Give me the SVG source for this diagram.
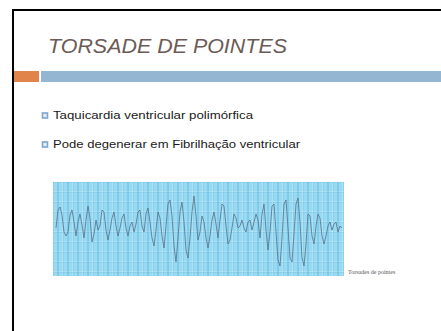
<svg xmlns="http://www.w3.org/2000/svg" width="441" height="331" viewBox="0 0 441 331">
<style>
.title{font-family:"Liberation Sans",Arial,sans-serif;font-style:italic;font-size:21px;fill:#6b5b56}
.body{font-family:"Liberation Sans",Arial,sans-serif;font-size:11px;fill:#1a1a1a}
.bullet{fill:#e4ecf4;stroke:#7fa6cf;stroke-width:1.6}
.cap{font-family:"Liberation Serif","Times New Roman",serif;font-size:6px;fill:#555}
</style>
<defs>
<pattern id="grid" x="53" y="182" width="10" height="10" patternUnits="userSpaceOnUse">
<rect width="10" height="10" fill="#c2ebf8"/>
<path d="M2 0V10M4 0V10M6 0V10M8 0V10M0 2H10M0 4H10M0 6H10M0 8H10" stroke="#72c9ec" stroke-width="0.6"/>
<path d="M0 0V10M0 0H10M5 0V10" stroke="#4aa6d6" stroke-width="0.6"/>
</pattern>
</defs>
<rect width="441" height="331" fill="#ffffff"/>
<path d="M13 331V10H441" fill="none" stroke="#000" stroke-width="2"/>
<text class="title" x="48" y="53" textLength="239" lengthAdjust="spacingAndGlyphs">TORSADE DE POINTES</text>
<rect x="14" y="71" width="25" height="11" fill="#e0844a"/>
<rect x="41" y="71" width="400" height="11" fill="#94b6d3"/>
<g id="bullets">
<rect class="bullet" x="42.5" y="113" width="5" height="5"/>
<text class="body" x="53" y="119" textLength="200" lengthAdjust="spacingAndGlyphs">Taquicardia ventricular polimórfica</text>
<rect class="bullet" x="42.5" y="142" width="5" height="5"/>
<text class="body" x="53" y="148" textLength="247" lengthAdjust="spacingAndGlyphs">Pode degenerar em Fibrilhação ventricular</text>
</g>
<g id="ecg">
<rect x="53" y="182" width="291" height="94" fill="url(#grid)"/>
<polyline fill="none" stroke="#56718c" stroke-width="0.8" stroke-linejoin="round" points="56,228 58,210 60,207 62,215 64,232 66,236 68,232 70,215 72,210 74,222 76,236 78,222 80,214 82,225 84,238 86,220 88,206 90,218 92,242 94,234 96,220 98,230 100,226 102,210 104,212 106,230 108,240 110,230 112,218 114,212 116,226 118,236 120,228 122,218 124,214 126,228 128,236 130,226 132,222 134,232 136,224 138,212 140,210 142,226 144,232 146,214 148,208 150,222 152,238 154,246 156,230 158,212 160,218 162,236 164,248 166,226 168,204 170,200 172,216 174,246 176,262 178,238 180,212 182,202 184,222 186,250 188,258 190,238 192,212 194,196 196,216 198,240 200,232 202,216 204,222 206,238 208,248 210,236 212,220 214,212 216,224 218,238 220,220 222,204 224,206 226,226 228,244 230,240 232,228 234,214 236,218 238,228 240,226 242,220 244,228 246,232 248,222 250,220 252,230 254,222 256,214 258,220 260,238 262,214 264,204 266,230 268,250 270,232 272,206 274,204 276,232 278,260 280,266 282,238 284,204 286,200 288,228 290,258 292,262 294,234 296,204 298,198 300,222 302,258 304,266 306,244 308,214 310,216 312,236 314,244 316,226 318,214 320,218 322,236 324,244 326,236 328,226 330,222 332,230 334,224 336,222 338,232 340,226 342,228"/>
<text class="cap" x="348" y="274">Torsades de pointes</text>
</g>
</svg>
